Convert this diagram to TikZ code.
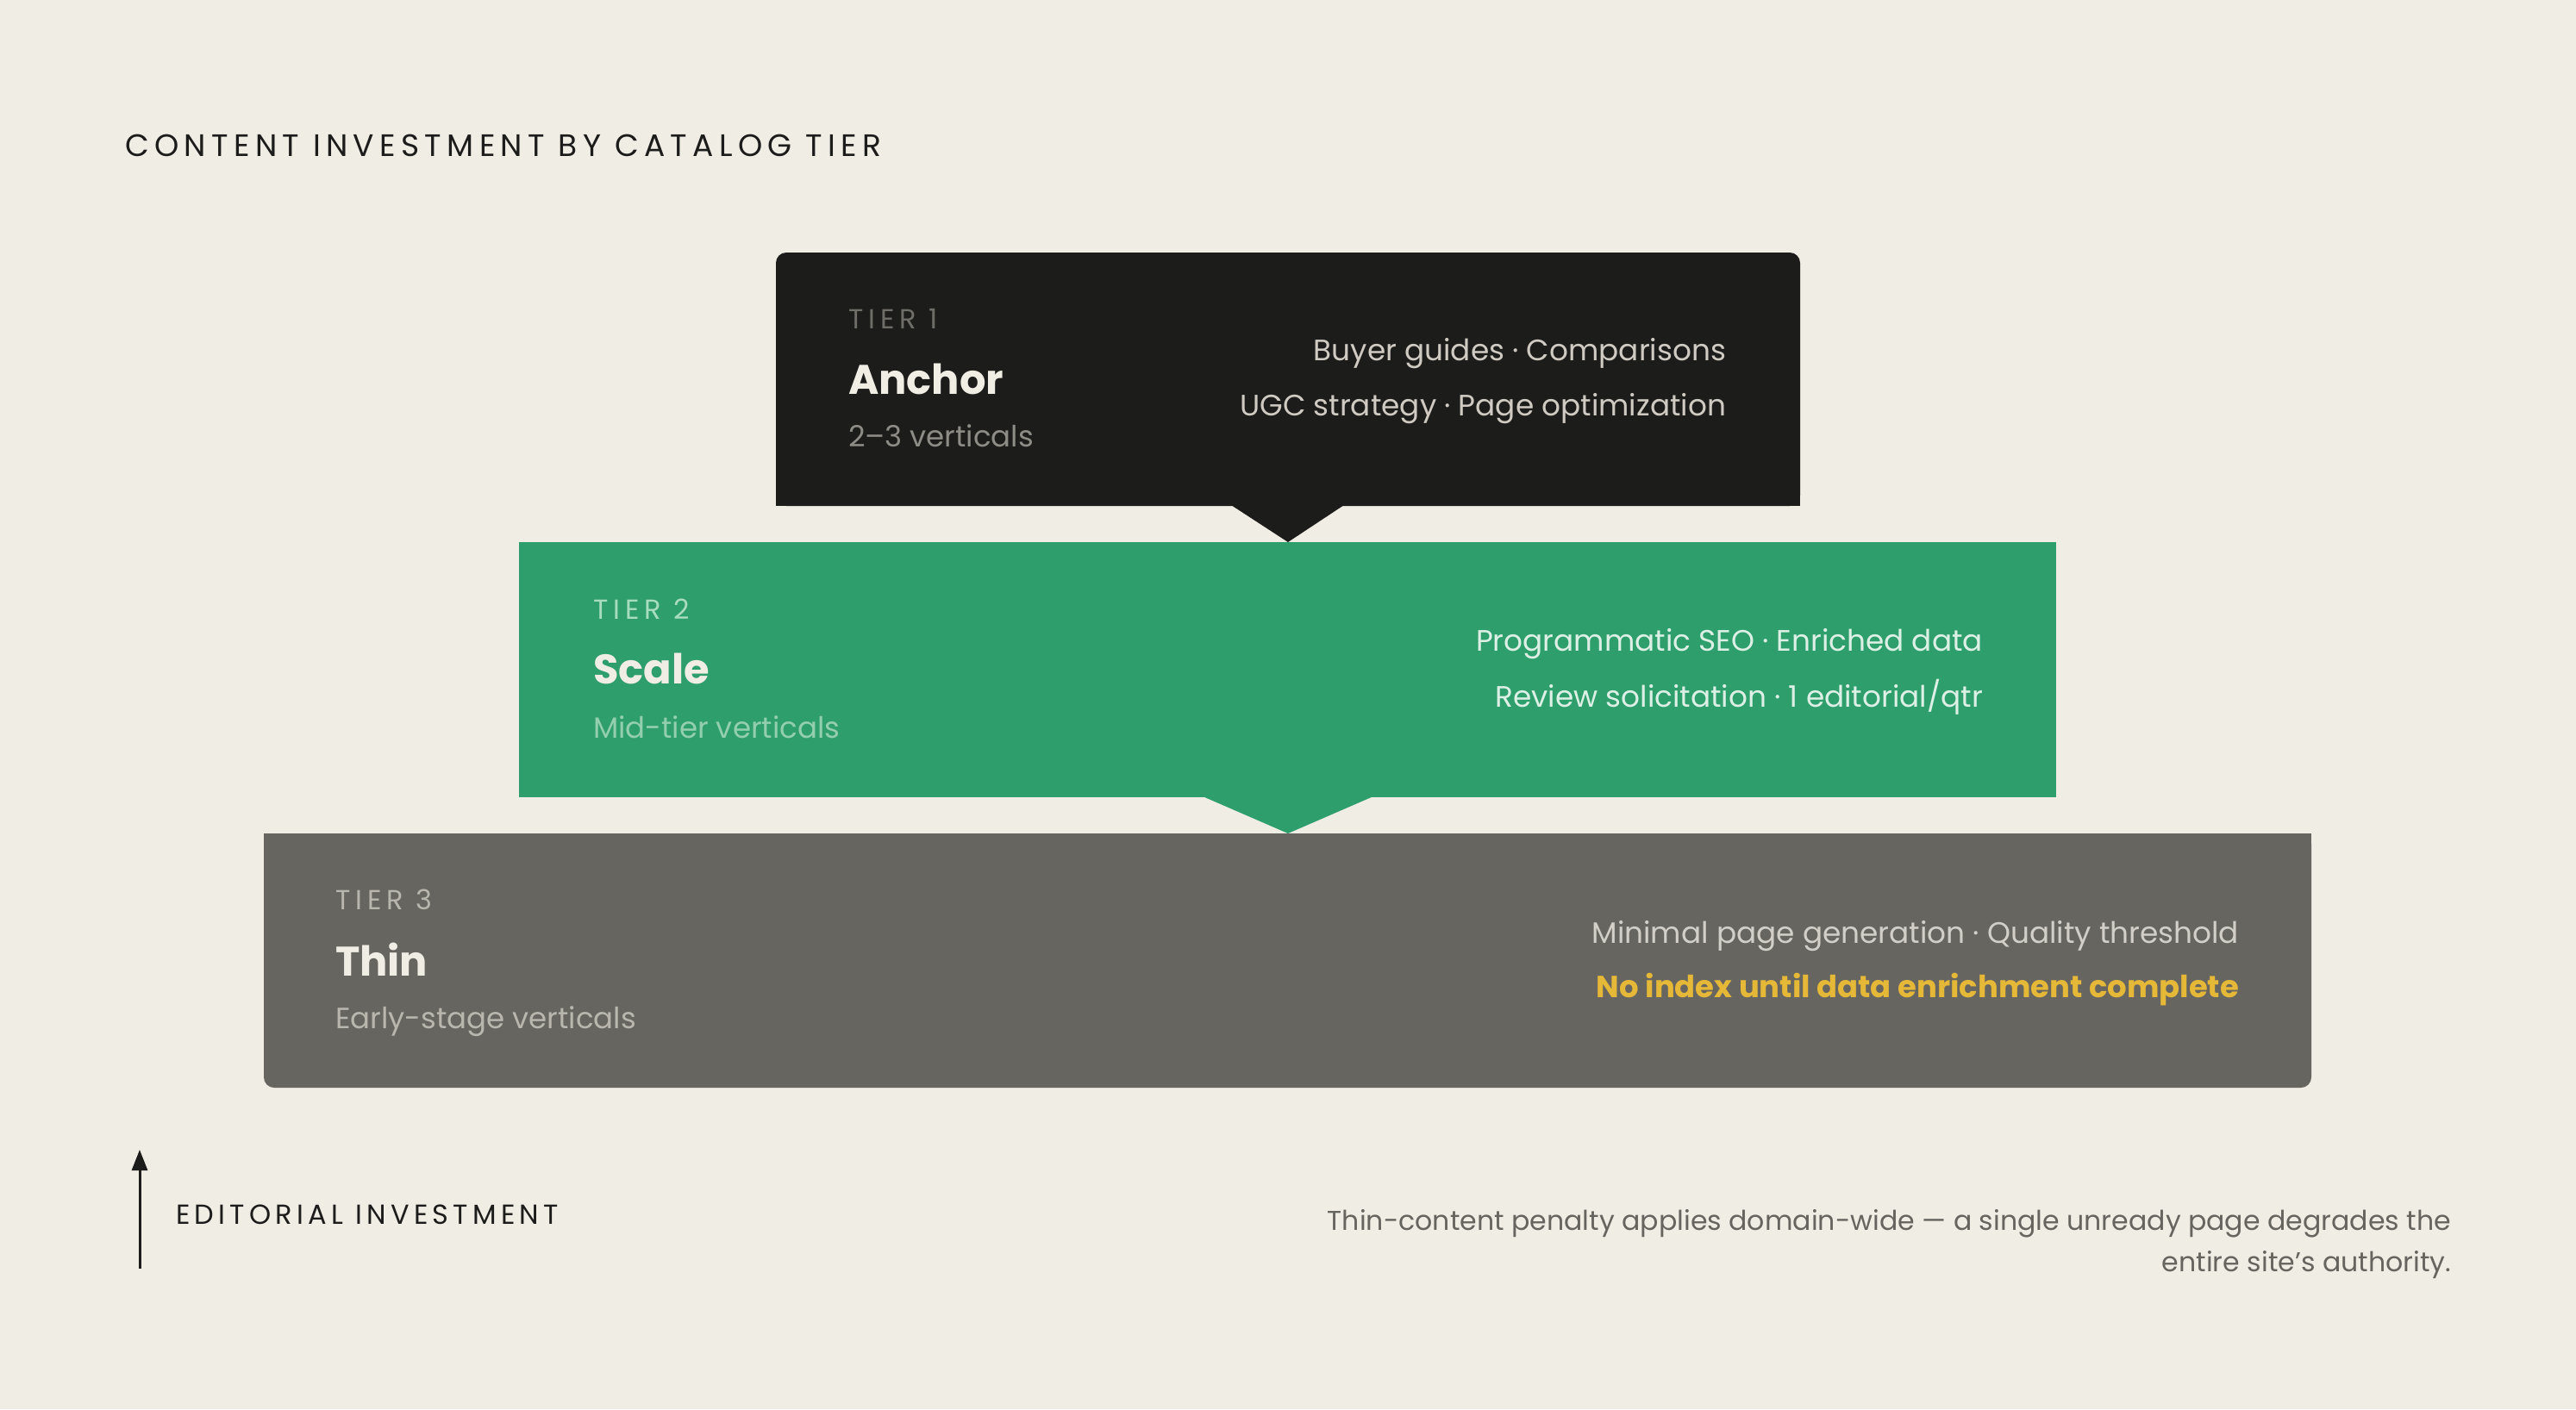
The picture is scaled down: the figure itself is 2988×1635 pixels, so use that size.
\documentclass[tikz,border=0pt]{standalone}
\usepackage{fontspec}
\setmainfont{Poppins}
\newfontfamily\spaced[LetterSpace=19]{Poppins}
\newfontfamily\spacedtitle[LetterSpace=17.6]{Poppins}
\newfontfamily\spacedaxis[LetterSpace=16.5]{Poppins}
\usetikzlibrary{arrows.meta}
\definecolor{bg}{HTML}{F0EDE5}
\definecolor{tdark}{HTML}{1C1C1A}
\definecolor{tgreen}{HTML}{2E9E6C}
\definecolor{tgray}{HTML}{676560}
\definecolor{lblA}{HTML}{6E6D68}
\definecolor{subA}{HTML}{8E8C86}
\definecolor{rtA}{HTML}{CFCBC3}
\definecolor{lblB}{HTML}{A8DCBF}
\definecolor{subB}{HTML}{93CFAE}
\definecolor{rtB}{HTML}{DDF0E5}
\definecolor{lblC}{HTML}{B9B6AE}
\definecolor{rtC}{HTML}{D2CFC8}
\definecolor{warn}{HTML}{E6B838}
\definecolor{notec}{HTML}{66645E}
\definecolor{head}{HTML}{F0EDE5}
\tikzset{
  txt/.style={inner sep=0pt, outer sep=0pt},
  lbl/.style={txt, anchor=base west, font=\spaced\fontsize{16}{19}\selectfont},
  hd/.style={txt, anchor=base west, font=\fontsize{24}{28}\selectfont\bfseries, text=head},
  sub/.style={txt, anchor=base west, font=\fontsize{17}{21}\selectfont},
  rt/.style={txt, anchor=base east, font=\fontsize{17.15}{21}\selectfont},
}
\begin{document}
\begin{tikzpicture}[x=0.5pt,y=-0.5pt]
\fill[bg] (0,0) rectangle (2988,1635);
\useasboundingbox (0,0) rectangle (2988,1635);

% title
\node[txt, anchor=base west, font=\spacedtitle\fontsize{18}{22}\selectfont, text=tdark] (title) at (145,181) {CONTENT INVESTMENT BY CATALOG TIER};

% tier 1
\fill[tdark, rounded corners=6pt] (900,293) rectangle (2088,587);
\fill[tdark] (900,400) rectangle (2088,587);
\fill[tdark] (1428,586) -- (1559,586) -- (1494,629) -- cycle;
\node[lbl, text=lblA] (t1lbl) at (984,381) {TIER 1};
\node[hd] (t1hd) at (984,457) {Anchor};
\node[sub, text=subA] (t1sub) at (984,518) {2–3 verticals};
\node[rt, text=rtA] (t1r1) at (2002,418) {Buyer guides · Comparisons};
\node[rt, text=rtA] (t1r2) at (2002,482) {UGC strategy · Page optimization};

% tier 2
\fill[tgreen] (602,629) rectangle (2385,925);
\fill[tgreen] (1395,924) -- (1593,924) -- (1494,967) -- cycle;
\node[lbl, text=lblB] (t2lbl) at (688,718) {TIER 2};
\node[hd] (t2hd) at (688,793) {Scale};
\node[sub, text=subB] (t2sub) at (688,856) {Mid-tier verticals};
\node[rt, text=rtB] (t2r1) at (2300,755) {Programmatic SEO · Enriched data};
\node[rt, text=rtB] (t2r2) at (2300,820) {Review solicitation · 1 editorial/qtr};

% tier 3
\fill[tgray, rounded corners=6pt] (306,967) rectangle (2681,1262);
\fill[tgray] (306,967) rectangle (2681,1100);
\node[lbl, text=lblC] (t3lbl) at (389,1055) {TIER 3};
\node[hd] (t3hd) at (389,1132) {Thin};
\node[sub, text=lblC] (t3sub) at (389,1193) {Early-stage verticals};
\node[rt, text=rtC] (t3r1) at (2597,1094) {Minimal page generation · Quality threshold};
\node[rt, text=warn, font=\fontsize{17.7}{21}\selectfont\bfseries] (t3r2) at (2597,1157) {No index until data enrichment complete};

% axis arrow
\coordinate (axlow) at (162,1472);
\coordinate (axhigh) at (162,1334);
\draw[tdark, line width=1.5pt, -{Triangle[length=12pt,width=9pt]}] (axlow) -- (axhigh);
\node[txt, anchor=base west, font=\spacedaxis\fontsize{16}{19}\selectfont, text=tdark] (axlbl) at (204,1420) {EDITORIAL INVESTMENT};

% note
\node[rt, font=\fontsize{15.8}{19}\selectfont, text=notec] (note1) at (2843,1427) {Thin-content penalty applies domain-wide — a single unready page degrades the};
\node[rt, font=\fontsize{15.8}{19}\selectfont, text=notec] (note2) at (2843,1475) {entire site's authority.};
\end{tikzpicture}
\end{document}
